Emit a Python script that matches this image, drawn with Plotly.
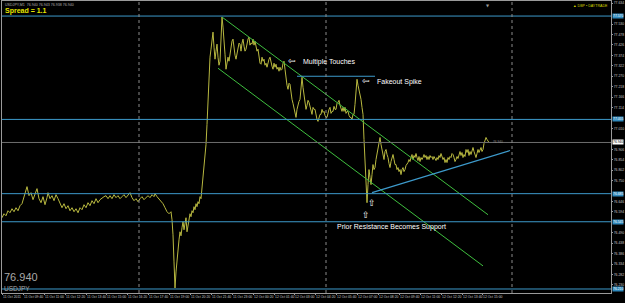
import plotly.graph_objects as go

# ---------------- data ----------------
bar_x = [2, 4, 6, 8, 10, 12, 14, 16, 18, 20, 22, 24, 26, 27, 29, 31, 33, 35, 37, 39,
         41, 43, 45, 47, 48, 50, 52, 54, 56, 58, 60, 62, 64, 66, 68, 70, 72, 74, 76, 78,
         80, 82, 84, 86, 88, 90, 92, 94, 96, 98, 100, 102, 104, 106, 108, 110, 112, 114, 116, 118,
         120, 122, 124, 126, 128, 130, 132, 134, 136, 138, 140, 142, 144, 146, 148, 150, 152, 154, 155, 157,
         159, 161, 163, 165, 167, 169, 171] + list(range(172, 490))

close = [76.565, 76.585, 76.575, 76.600, 76.590, 76.610, 76.595, 76.615, 76.600, 76.625,
         76.635, 76.665, 76.695, 76.720, 76.675, 76.690, 76.655, 76.685, 76.710, 76.660,
         76.640, 76.670, 76.630, 76.665, 76.690, 76.660, 76.675, 76.650, 76.680, 76.660,
         76.640, 76.615, 76.635, 76.610, 76.625, 76.600, 76.615, 76.595, 76.610, 76.590,
         76.615, 76.605, 76.630, 76.615, 76.640, 76.625, 76.650, 76.635, 76.660, 76.640,
         76.655, 76.665, 76.670, 76.675, 76.660, 76.675, 76.660, 76.680, 76.665, 76.675,
         76.660, 76.670, 76.680, 76.665, 76.675, 76.690, 76.665, 76.650, 76.660, 76.645,
         76.660, 76.670, 76.655, 76.665, 76.675, 76.665, 76.680, 76.670, 76.685, 76.670,
         76.660, 76.650, 76.635, 76.615, 76.595, 76.585, 76.595,
         # 172..
         76.555, 76.480, 76.345, 76.215, 76.295, 76.365, 76.425, 76.455, 76.495, 76.475,
         76.515, 76.545, 76.505, 76.540, 76.565, 76.495, 76.535, 76.555, 76.585, 76.570,
         76.600, 76.590, 76.620, 76.605, 76.635, 76.620, 76.645, 76.635, 76.670, 76.660,
         # 202..
         76.715, 76.775, 76.805, 76.865, 76.930, 77.030, 77.155, 77.265, 77.365, 77.405,
         77.465, 77.490, 77.415, 77.355, 77.395, 77.430, 77.365, 77.325, 77.345, 77.505,
         # 222..
         77.565, 77.515, 77.465, 77.380, 77.305, 77.340, 77.365, 77.345, 77.385, 77.415,
         77.445, 77.455, 77.405, 77.375, 77.355, 77.390, 77.415, 77.435, 77.430, 77.395,
         # 242..
         77.435, 77.455, 77.420, 77.395, 77.405, 77.440, 77.455, 77.465, 77.425, 77.435,
         77.430, 77.455, 77.425, 77.445, 77.415, 77.395, 77.405, 77.365, 77.335, 77.330,
         # 262..
         77.365, 77.345, 77.355, 77.325, 77.335, 77.315, 77.345, 77.355, 77.365, 77.335,
         77.320, 77.305, 77.335, 77.315, 77.330, 77.305, 77.315, 77.295, 77.315, 77.300,
         # 282..
         77.305, 77.335, 77.345, 77.305, 77.255, 77.225, 77.205, 77.235, 77.230, 77.185,
         77.155, 77.135, 77.115, 77.090, 77.065, 77.105, 77.130, 77.145, 77.155, 77.205,
         # 302..
         77.265, 77.215, 77.180, 77.135, 77.105, 77.125, 77.150, 77.140, 77.115, 77.095,
         77.080, 77.115, 77.105, 77.105, 77.075, 77.055, 77.045, 77.065, 77.080, 77.080,
         # 322..
         77.105, 77.090, 77.095, 77.075, 77.065, 77.065, 77.095, 77.105, 77.115, 77.085,
         77.095, 77.095, 77.120, 77.105, 77.105, 77.135, 77.140, 77.150, 77.125, 77.105,
         # 342..
         77.095, 77.115, 77.095, 77.115, 77.085, 77.095, 77.095, 77.075, 77.065, 77.065,
         77.055, 77.080, 77.080, 77.130, 77.195, 77.255, 77.225, 77.205, 77.175, 77.155,
         # 362..
         77.115, 77.080, 76.955, 76.830, 76.715, 76.640, 76.730, 76.805, 76.765, 76.730,
         76.780, 76.830, 76.805, 76.815, 76.855, 76.880, 76.905, 76.945, 76.965, 76.930,
         # 382..
         76.905, 76.865, 76.855, 76.895, 76.905, 76.880, 76.865, 76.835, 76.815, 76.845,
         76.865, 76.880, 76.855, 76.830, 76.830, 76.805, 76.815, 76.795, 76.805, 76.780,
         # 402..
         76.805, 76.815, 76.795, 76.805, 76.825, 76.830, 76.840, 76.855, 76.845, 76.865,
         76.880, 76.855, 76.875, 76.865, 76.885, 76.865, 76.850, 76.870, 76.845, 76.865,
         # 422..
         76.855, 76.865, 76.880, 76.865, 76.875, 76.855, 76.870, 76.855, 76.875, 76.865,
         76.870, 76.855, 76.870, 76.860, 76.850, 76.865, 76.855, 76.875, 76.865, 76.885,
         # 442..
         76.870, 76.855, 76.865, 76.840, 76.855, 76.840, 76.865, 76.855, 76.870, 76.865,
         76.885, 76.880, 76.865, 76.845, 76.855, 76.870, 76.860, 76.880, 76.895, 76.875,
         # 462..
         76.890, 76.865, 76.880, 76.870, 76.905, 76.890, 76.905, 76.875, 76.895, 76.880,
         76.905, 76.915, 76.895, 76.880, 76.865, 76.885, 76.905, 76.890, 76.905, 76.915,
         # 482..
         76.895, 76.905, 76.935, 76.955, 76.965, 76.955, 76.945, 76.940]

current_price = 76.940
level_prices = [77.570, 77.055, 76.685, 76.545, 76.210]
short_level_price = 77.270
short_level_x = [297, 375]
channel_upper_x = [222, 488]
channel_upper_y = [77.565, 76.580]
channel_lower_x = [218, 483]
channel_lower_y = [77.310, 76.325]
trend_x = [372, 510]
trend_y = [76.690, 76.900]
separator_x = [139, 326, 512]

price_ticks = [76.230, 76.282, 76.334, 76.386, 76.438, 76.490, 76.594, 76.646,
               76.750, 76.802, 76.854, 76.906, 77.010, 77.114, 77.166, 77.218,
               77.270, 77.322, 77.374, 77.426, 77.478, 77.530, 77.634]

time_label_x = [2, 23, 44, 65, 86, 106, 127, 148, 169, 190, 211, 232,
                253, 274, 294, 315, 336, 357, 378, 399, 420, 441, 462, 482]
time_labels = ["11 Oct 2011", "11 Oct 09:40", "11 Oct 11:00", "11 Oct 12:20",
               "11 Oct 13:40", "11 Oct 15:00", "11 Oct 16:20", "11 Oct 17:40",
               "11 Oct 19:00", "11 Oct 20:20", "11 Oct 21:40", "11 Oct 23:00",
               "12 Oct 00:20", "12 Oct 01:40", "12 Oct 03:00", "12 Oct 04:20",
               "12 Oct 05:40", "12 Oct 07:00", "12 Oct 08:20", "12 Oct 09:40",
               "12 Oct 11:00", "12 Oct 12:20", "12 Oct 13:40", "12 Oct 15:00"]

# ---------------- styling ----------------
BG = "#000000"
PRICE_C = "#b9b940"
LEVEL_C = "#3d9acb"
GREEN_C = "#3fbf3f"
FRAME_C = "#9a9a9a"
TXT_C = "#c8c8c8"
NARROW = "Liberation Sans Narrow, Liberation Sans, Arial"
AX_FONT = dict(family=NARROW, size=3.4, color=TXT_C)
X_FONT = dict(family=NARROW, size=3.4, color=TXT_C)

fig = go.Figure()

for p in level_prices:
    fig.add_shape(type="line", xref="paper", x0=0, x1=1, y0=p, y1=p,
                  line=dict(color=LEVEL_C, width=1))
fig.add_shape(type="line", x0=short_level_x[0], x1=short_level_x[1],
              y0=short_level_price, y1=short_level_price,
              line=dict(color=LEVEL_C, width=1))
fig.add_shape(type="line", xref="paper", x0=0, x1=1, y0=current_price, y1=current_price,
              line=dict(color="#6e6e6e", width=1))
for sx in separator_x:
    fig.add_shape(type="line", x0=sx, x1=sx, yref="paper", y0=0, y1=1,
                  line=dict(color="#8a8a8a", width=1, dash="dot"))

fig.add_trace(go.Scatter(x=bar_x, y=close, mode="lines",
                         line=dict(color=PRICE_C, width=1), hoverinfo="skip"))
fig.add_trace(go.Scatter(x=channel_upper_x, y=channel_upper_y, mode="lines",
                         line=dict(color=GREEN_C, width=1), hoverinfo="skip"))
fig.add_trace(go.Scatter(x=channel_lower_x, y=channel_lower_y, mode="lines",
                         line=dict(color=GREEN_C, width=1), hoverinfo="skip"))
fig.add_trace(go.Scatter(x=trend_x, y=trend_y, mode="lines",
                         line=dict(color=LEVEL_C, width=1.2), hoverinfo="skip"))

ann_font = dict(family="Liberation Sans, Arial", size=7, color="#ffffff")
arrow_font = dict(family="DejaVu Sans", size=9, color="#ffffff")
texts = [(301, 77.340, "Multiple Touches"),
         (375, 77.240, "Fakeout Spike"),
         (335, 76.520, "Prior Resistance Becomes Support")]
for tx, ty, tt in texts:
    fig.add_annotation(x=tx, y=ty, text=tt, xanchor="left", yanchor="middle",
                       showarrow=False, font=ann_font)
for ax_, ay_ in [(292, 77.340), (366, 77.240)]:
    fig.add_annotation(x=ax_, y=ay_, text="\u21e6", showarrow=False, yshift=1, font=arrow_font)
for ax_, ay_ in [(372, 76.640), (366, 76.580)]:
    fig.add_annotation(x=ax_, y=ay_, text="\u21e7", showarrow=False, font=arrow_font)

for p in level_prices:
    fig.add_annotation(xref="paper", x=1, xanchor="left", xshift=1, y=p, yanchor="middle",
                       text="%.3f" % p, showarrow=False, bgcolor="#2f88bb", borderpad=0,
                       font=dict(family=NARROW, size=3.4, color="#ffffff"))
fig.add_annotation(xref="paper", x=1, xanchor="left", xshift=1, y=current_price, yanchor="middle",
                   text="%.3f" % current_price, showarrow=False, bgcolor="#ffffff", borderpad=0,
                   font=dict(family=NARROW, size=3.4, color="#000000"))
fig.add_annotation(x=491, y=current_price, xanchor="left", yanchor="middle",
                   text="%.3f" % current_price, showarrow=False,
                   font=dict(family="Liberation Sans, Arial", size=3.2, color="#8a8a8a"))

fig.add_annotation(xref="paper", yref="paper", x=0.002, y=1.0, xanchor="left", yanchor="top",
                   text="USDJPY,M1  76.940 76.943 76.938 76.940", showarrow=False,
                   font=dict(family="Liberation Sans, Arial", size=3.6, color="#b0b0b0"))
fig.add_annotation(xref="paper", yref="paper", x=0.002, y=0.985, xanchor="left", yanchor="top",
                   text="<b>Spread = 1.1</b>", showarrow=False,
                   font=dict(family="Liberation Sans, Arial", size=7, color="#e6e600"))
fig.add_annotation(xref="paper", yref="paper", x=0.998, y=0.995, xanchor="right", yanchor="top",
                   text="\u25b2 DBP \u2022 DAYTRADE", showarrow=False,
                   font=dict(family="Liberation Sans, Arial", size=3.6, color="#d8d800"))
fig.add_annotation(x=488, yref="paper", y=1.0, yanchor="top", text="\u25bc", showarrow=False,
                   font=dict(family="DejaVu Sans", size=4, color="#9a9a9a"))
fig.add_annotation(xref="paper", yref="paper", x=0.0, y=0.028, xanchor="left", yanchor="bottom",
                   text="76.940", showarrow=False,
                   font=dict(family="Liberation Sans, Arial", size=11, color="#a8a8a8"))
fig.add_annotation(xref="paper", yref="paper", x=0.0, y=-0.005, xanchor="left", yanchor="bottom",
                   text="USDJPY", showarrow=False,
                   font=dict(family="Liberation Sans, Arial", size=6.5, color="#a8a8a8"))

fig.update_layout(
    width=625, height=303,
    margin=dict(l=2, r=14, t=1, b=10),
    paper_bgcolor=BG, plot_bgcolor=BG,
    showlegend=False,
    xaxis=dict(range=[2, 611], showgrid=False, zeroline=False,
               tickvals=time_label_x, ticktext=time_labels, tickangle=0,
               ticks="outside", ticklen=1, tickcolor=FRAME_C,
               ticklabelposition="outside right", tickfont=X_FONT,
               showline=True, linecolor=FRAME_C, linewidth=1, mirror=True,
               automargin=False, fixedrange=True),
    yaxis=dict(range=[76.190, 77.645], side="right", showgrid=False, zeroline=False,
               tickvals=price_ticks, tickformat=".3f",
               ticks="outside", ticklen=1, tickcolor=FRAME_C, tickfont=AX_FONT,
               showline=True, linecolor=FRAME_C, linewidth=1, mirror=True,
               automargin=False, fixedrange=True),
)

fig.write_html("out.html")
